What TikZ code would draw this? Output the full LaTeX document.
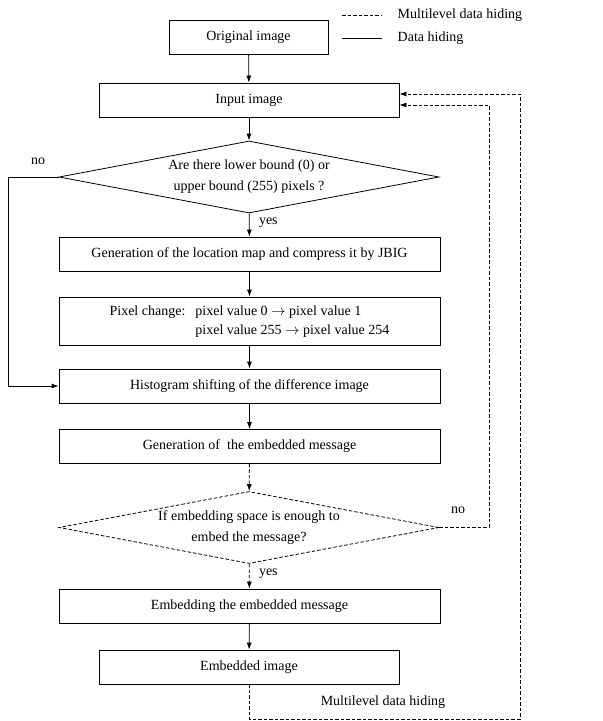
\documentclass[tikz,border=0pt]{standalone}
\usepackage{fontspec}
\setmainfont{Liberation Serif}
\usetikzlibrary{shapes.geometric,arrows.meta}

\begin{document}
\begin{tikzpicture}[>={Latex[length=7pt,width=5pt]},x=1pt,y=-1pt,line width=0.8pt,
  every node/.style={font=\fontsize{14}{21}\selectfont},
  box/.style={draw,minimum height=34pt,inner sep=0pt},
  ask/.style={draw,diamond,aspect=5.28,minimum width=380pt,minimum height=72pt,inner sep=0pt,align=center},
  ml/.style={dash pattern=on 3.5pt off 2pt}]
  \useasboundingbox (0,0) rectangle (603,721);
  \draw [ml] (342,15) -- (382,15) node[right=12pt] (lml) {Multilevel data hiding};
  \draw (342,38) -- (382,38) node[right=12pt] (ldh) {Data hiding};
  \node[box,minimum width=159pt] (orig) at (248.5,37) {Original image};
  \node[box,minimum width=300pt] (in) at (249,100) {Input image};
  \node[ask] (bound) at (249,177) {Are there lower bound (0) or\\upper bound (255) pixels ?};
  \node[box,minimum width=381pt] (map) at (249.5,254) {Generation of the location map and compress it by JBIG};
  \node[box,minimum width=381pt,minimum height=48pt] (change) at (249.5,321)
    {\begin{tabular}{@{}l@{\hspace{10pt}}l@{}}
      Pixel change: & pixel value 0 $\rightarrow$ pixel value 1\\[-2pt]
      & pixel value 255 $\rightarrow$ pixel value 254
    \end{tabular}};
  \node[box,minimum width=381pt] (hist) at (249.5,386) {Histogram shifting of the difference image};
  \node[box,minimum width=381pt] (msg) at (249.5,446.5) {Generation of \ the embedded message};
  \node[ask,ml] (space) at (249,527.5) {If embedding space is enough to\\embed the message?};
  \node[box,minimum width=381pt] (embed) at (249.5,606) {Embedding the embedded message};
  \node[box,minimum width=300pt] (out) at (249,667) {Embedded image};
  \draw [->] (orig) -- (in);
  \draw [->] (in) -- (bound);
  \draw [->] (bound) -- (map) node[pos=0.4,right=6pt] (yes1) {yes};
  \draw [->] (map) -- (change);
  \draw [->] (change) -- (hist);
  \draw [->] (hist) -- (msg);
  \draw [->,ml] (msg) -- (space);
  \draw [->,ml] (space) -- (embed) node[pos=0.4,right=6pt] (yes2) {yes};
  \draw [->] (embed) -- (out);
  \coordinate (noleft) at (8,177);
  \draw [->] (bound.west) -- (noleft) |- (hist.west);
  \node (no1) at (38,161) {no};
  \coordinate (noright) at (489,527.5);
  \draw [->,ml] (space.east) -- (noright) |- ([yshift=-5pt]in.east);
  \node (no2) at (458,510) {no};
  \coordinate (loop) at (520,719);
  \draw [->,ml] (out.south) |- (loop) |- ([yshift=6pt]in.east);
  \node (lloop) at (383,702) {Multilevel data hiding};
\end{tikzpicture}
\end{document}
